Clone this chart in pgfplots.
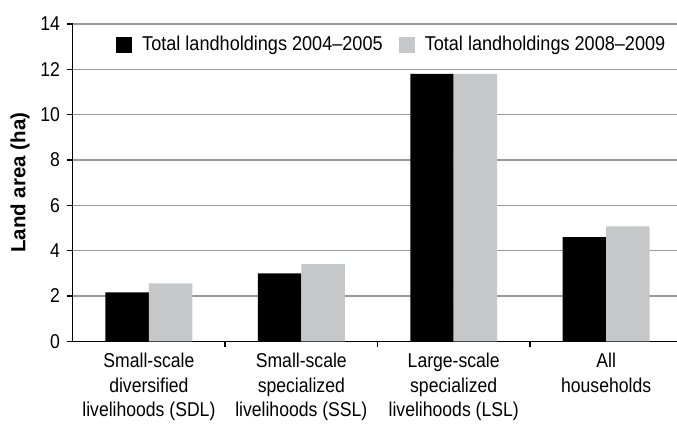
\documentclass[border=0pt]{standalone}
\usepackage{pgfplots}
\pgfplotsset{compat=1.18}
\usepackage{fontspec}
\setmainfont{Liberation Sans}[FakeStretch=0.88]
\newfontfamily\labfont{Liberation Sans}
\newfontfamily\legfont{Liberation Sans}[FakeStretch=0.905]
\definecolor{bargray}{HTML}{C6C7C9}
\definecolor{gridgray}{HTML}{9A9A9A}
\begin{document}
\fontsize{20}{24}\selectfont
\begin{tikzpicture}
\begin{axis}[
  scale only axis, width=604.3pt, height=317.3pt,
  xmin=-0.5, xmax=3.465, ymin=0, ymax=14,
  /pgf/number format/assume math mode=true,
  ytick={0,2,...,14},
  ymajorgrids, grid style={gridgray, line width=1.5pt},
  axis x line*=bottom, axis y line*=left,
  axis line style={black, line width=1.4pt, -},
  tick align=outside, major tick length=6pt,
  tick style={black, line width=1.4pt},
  ytick pos=left, xtick pos=bottom,
  xtick={0.5,1.5,2.5}, xticklabels={},
  extra x ticks={0,1,2,3},
  extra x tick labels={Small-scale\\diversified\\livelihoods (SDL),Small-scale\\specialized\\livelihoods (SSL),Large-scale\\specialized\\livelihoods (LSL),All\\households},
  extra x tick style={major tick length=0pt},
  xticklabel style={align=center, font=\fontsize{20}{24.5}\selectfont, yshift=-5pt},
  yticklabel style={font=\fontsize{20}{24}\selectfont},
  ylabel={Land area (ha)},
  ylabel style={at={([xshift=-52.5pt]axis description cs:0,0.5)}, anchor=center, font=\labfont\bfseries\fontsize{20.5}{24}\selectfont},
  ybar=0pt, bar width=0.285,
  legend columns=2,
  legend style={at={(axis description cs:0.0717,0.934)}, anchor=west, draw=none, fill=none, inner sep=0pt,
    nodes={inner sep=0pt}, font=\legfont\fontsize{20}{24}\selectfont,
    /tikz/every even column/.append style={column sep=16pt}},
  legend image code/.code={\fill[#1] (0pt,-8pt) rectangle (16pt,8pt); \path (26pt,0pt);},
]
\addplot[fill=black, draw=none] coordinates {(0,2.16) (1,3.0) (2,11.8) (3,4.6)};
\addlegendentry{Total landholdings 2004–2005}
\addplot[fill=bargray, draw=none] coordinates {(0,2.56) (1,3.4) (2,11.8) (3,5.07)};
\addlegendentry{Total landholdings 2008–2009}
\coordinate (sw) at (rel axis cs:0,0);
\coordinate (ne) at (rel axis cs:1,1);
\end{axis}
\pgfresetboundingbox
\path[use as bounding box] ([xshift=-72.7pt,yshift=-81.7pt]sw) rectangle ([yshift=24pt]ne);
\end{tikzpicture}
\end{document}
